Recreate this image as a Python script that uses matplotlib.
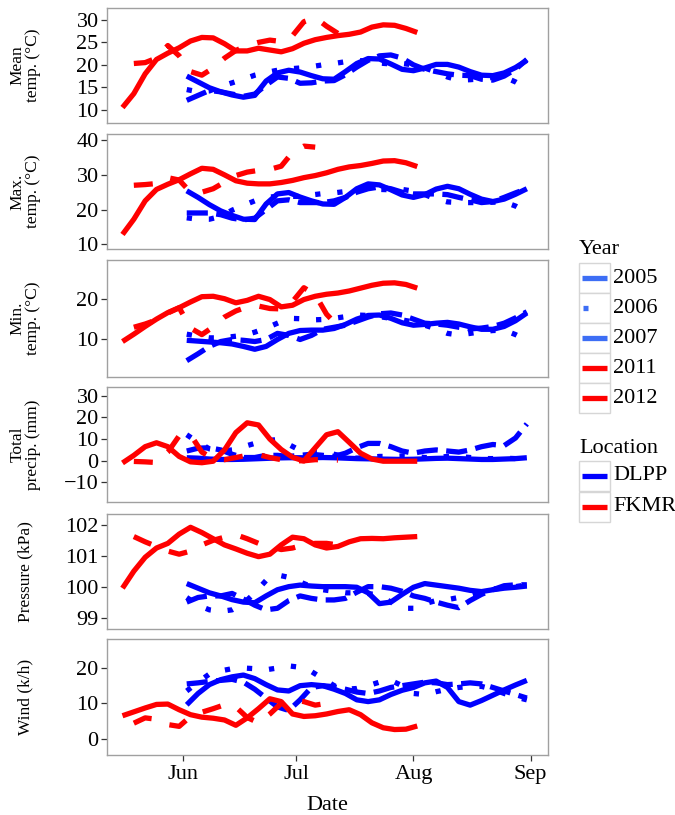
"""
Weather series at the two sites (DLPP 2005-2007, FKMR 2011-2012), overlaid by calendar day.
"""
import matplotlib
matplotlib.use("Agg")
import matplotlib.pyplot as plt
import matplotlib.dates as mdates
from matplotlib.patches import Rectangle
import numpy as np
import pandas as pd

nan = np.nan

# all years are drawn on one calendar (2005) so they overlay by day of year
dlpp_dates = pd.date_range("2005-06-02", periods=31, freq="3D")
fkmr_dates = pd.date_range("2005-05-16", periods=27, freq="3D")

mean_2005 = [17.5, 16.2, 14.9, 14.0, 13.3, 12.8, 13.2, 16.4, 18.2, 18.8, 18.4, 17.6, 16.9, 16.8, 18.5, 20.3,
             21.4, 21.3, 20.2, 19.0, 18.7, 19.3, 20.1, 20.1, 19.5, 18.5, 17.7, 17.6, 18.2, 19.4, 21.0]
mean_2006 = [14.5, 14.0, 14.2, 15.2, 16.0, 16.8, 17.7, 18.3, 18.8, 19.1, 19.3, 19.6, 20.0, 20.3, 20.7, 21.0,
             20.8, 20.4, 20.2, 20.3, 20.0, 19.3, 18.4, 17.3, 16.6, 16.7, 16.9, 17.2, 17.3, 16.2, 14.7]
mean_2007 = [12.1, 13.2, 14.3, 14.0, 13.5, 13.0, 13.5, 15.5, 17.3, 17.0, 15.9, 16.0, 16.4, 16.5, 17.8, 19.5,
             21.0, 22.0, 22.2, 21.5, 20.0, 19.0, 18.5, 18.0, 17.7, 17.6, 16.8, 16.6, 17.5, 19.0, 21.2]
mean_2011 = [10.5, 13.6, 18.0, 21.2, 22.6, 23.8, 25.3, 26.1, 26.0, 24.7, 23.1, 23.1, 23.7, 23.3, 22.9, 23.6,
             24.8, 25.6, 26.1, 26.5, 26.8, 27.3, 28.4, 28.9, 28.8, 28.1, 27.2]
mean_2012 = [nan, 20.3, 20.5, 21.5, 24.3, 22.0, 18.5, 17.7, 19.3, 21.5, 23.2, 24.3, 25.0, 25.5, 25.2, 26.5,
             29.6, 30.5, 28.6, 27.0, nan, nan, nan, nan, nan, nan, nan]

max_2005 = [25.4, 23.5, 21.4, 19.6, 18.3, 17.2, 17.1, 21.6, 24.5, 24.9, 23.6, 22.5, 21.6, 21.5, 23.5, 26.0,
            27.4, 27.1, 25.7, 24.2, 23.5, 24.3, 25.9, 26.7, 26.0, 24.4, 23.0, 22.3, 23.0, 24.4, 26.0]
max_2006 = [17.6, 17.2, 17.2, 18.0, 19.8, 21.2, 22.5, 23.5, 23.8, 23.8, 23.8, 24.2, 24.6, 24.8, 25.2, 25.8,
            26.0, 25.8, 25.7, 25.8, 25.3, 24.3, 23.0, 22.2, 22.0, 22.0, 22.0, 22.1, 22.2, 21.0, 19.2]
max_2007 = [19.0, 19.0, 19.0, 18.5, 17.5, 17.0, 17.5, 20.0, 22.5, 22.8, 22.0, 22.0, 22.0, 22.5, 23.5, 25.0,
            26.0, 26.5, 26.0, 25.0, 24.5, 24.5, 24.5, 24.3, 23.5, 22.8, 22.0, 22.3, 23.5, 24.8, 26.0]
max_2011 = [12.8, 17.2, 22.5, 25.8, 27.3, 28.6, 30.3, 31.9, 31.6, 30.0, 28.3, 27.6, 27.4, 27.4, 27.8, 28.4,
            29.2, 29.8, 30.6, 31.6, 32.3, 32.7, 33.3, 34.0, 34.1, 33.5, 32.4]
max_2012 = [nan, 27.0, 27.2, 27.5, 29.2, 28.5, 25.0, 25.0, 26.0, 27.9, 29.8, 30.8, 31.3, 31.6, 32.5, 36.5,
            38.3, 38.0, nan, nan, nan, nan, nan, nan, nan, nan, nan]

min_2005 = [9.8, 9.6, 9.4, 9.2, 8.9, 8.3, 7.6, 8.3, 10.0, 11.5, 12.2, 12.3, 12.3, 12.7, 13.7, 15.0,
            15.9, 16.0, 15.2, 14.1, 13.5, 13.7, 14.0, 14.2, 13.8, 13.1, 12.5, 12.5, 13.2, 14.6, 16.5]
min_2006 = [11.3, 10.8, 10.4, 10.4, 10.7, 11.0, 11.8, 12.8, 14.0, 15.2, 15.1, 14.8, 14.9, 15.2, 15.6, 16.0,
            15.9, 15.6, 15.2, 14.8, 14.3, 13.5, 12.6, 11.5, 11.1, 11.5, 11.9, 12.2, 12.3, 11.2, 9.8]
min_2007 = [4.8, 6.5, 8.3, 9.5, 10.0, 9.8, 9.5, 10.0, 11.5, 11.0, 10.0, 11.0, 12.5, 13.0, 13.5, 14.5,
            15.5, 16.3, 16.5, 16.0, 15.0, 14.0, 13.8, 13.5, 13.0, 12.6, 12.8, 13.2, 14.0, 15.3, 16.8]
min_2011 = [9.5, 11.3, 13.2, 15.0, 16.6, 17.8, 19.2, 20.5, 20.6, 20.0, 19.0, 19.6, 20.6, 19.8, 18.0, 18.4,
            19.8, 20.6, 21.1, 21.4, 21.9, 22.6, 23.3, 23.8, 23.9, 23.5, 22.6]
min_2012 = [nan, 13.0, 13.8, 14.8, 16.5, 17.8, 12.8, 11.2, 13.1, 15.5, 17.0, 18.0, 18.2, 17.6, 17.5, 19.3,
            22.7, 21.0, 16.2, 13.3, nan, nan, nan, nan, nan, nan, nan]

precip_2005 = [1.4, 1.2, 0.8, 0.6, 0.6, 0.7, 0.9, 1.1, 1.3, 1.4, 1.4, 1.4, 1.5, 1.4, 1.2, 1.0,
               0.9, 0.8, 0.7, 0.6, 0.7, 0.9, 1.1, 1.2, 1.0, 0.8, 0.6, 0.6, 0.8, 1.0, 1.4]
precip_2006 = [12.0, 8.5, 5.5, 4.5, 5.0, 6.5, 8.0, 9.2, 9.8, 7.5, 4.8, 4.4, 4.4, 3.0, 1.8, 1.2,
               1.5, 2.0, 2.0, 2.2, 2.0, 1.5, 1.5, 2.0, 2.0, 1.5, 1.0, 1.0, 1.2, 1.0, 0.8]
precip_2007 = [4.5, 5.8, 6.0, 5.0, 3.0, 1.5, 1.5, 2.5, 2.5, 2.0, 2.5, 3.0, 2.5, 2.0, 3.5, 6.0,
               8.0, 8.0, 6.5, 4.5, 3.5, 4.5, 5.0, 4.5, 4.0, 5.0, 6.5, 7.5, 7.0, 10.5, 17.0]
precip_2011 = [-1.0, 2.5, 6.5, 8.3, 6.5, 2.0, -0.5, -0.9, -0.2, 5.0, 13.0, 17.5, 16.5, 10.0, 5.2, 1.6,
               -0.1, 6.0, 12.0, 13.4, 8.5, 3.5, 0.8, -0.2, -0.2, -0.2, -0.2]
precip_2012 = [nan, -0.3, -0.5, -0.8, 4.0, 11.5, 12.0, 4.0, 1.0, 0.5, 1.5, 2.5, 2.8, 1.5, 0.5, 0.0,
               0.0, 0.5, 0.5, 0.3, nan, nan, nan, nan, nan, nan, nan]

pres_2005 = [100.10, 99.95, 99.80, 99.70, 99.58, 99.50, 99.48, 99.70, 99.90, 100.00, 100.05, 100.02, 100.00,
             100.00, 100.00, 99.98, 99.80, 99.45, 99.50, 99.75, 99.98, 100.10, 100.05, 100.00, 99.95, 99.88,
             99.84, 99.90, 99.95, 99.98, 100.02]
pres_2006 = [99.65, 99.40, 99.25, 99.20, 99.25, 99.45, 99.80, 100.20, 100.38, 100.30, 100.15, 100.00, 99.90,
             99.85, 99.80, 99.80, 99.78, 99.72, 99.50, 99.30, 99.30, 99.45, 99.55, 99.58, 99.65, 99.75,
             99.85, 99.92, 99.96, 100.00, 100.06]
pres_2007 = [99.50, 99.65, 99.70, 99.70, 99.78, 99.60, 99.40, 99.25, 99.30, 99.55, 99.70, 99.62, 99.57,
             99.57, 99.62, 99.82, 100.00, 100.00, 99.95, 99.85, 99.70, 99.62, 99.50, 99.40, 99.32, 99.55,
             99.75, 99.90, 100.03, 100.06, 100.06]
pres_2011 = [99.95, 100.50, 100.95, 101.25, 101.40, 101.70, 101.92, 101.75, 101.55, 101.35, 101.22, 101.08,
             100.97, 101.05, 101.35, 101.60, 101.55, 101.35, 101.25, 101.30, 101.45, 101.55, 101.56, 101.55,
             101.58, 101.60, 101.62]
pres_2012 = [nan, 101.62, 101.45, 101.30, 101.15, 101.05, 101.15, 101.35, 101.50, 101.60, 101.68, 101.55,
             101.40, 101.30, 101.20, 101.25, 101.35, 101.40, 101.40, 101.35, nan, nan, nan, nan, nan, nan, nan]

wind_2005 = [9.6, 12.8, 15.3, 16.7, 17.5, 18.0, 17.0, 15.3, 13.8, 13.5, 15.0, 15.3, 15.0, 14.0, 12.8, 11.0,
             10.5, 11.0, 12.5, 13.7, 14.5, 15.8, 16.3, 14.5, 10.5, 9.5, 10.8, 12.3, 13.8, 15.2, 16.5]
wind_2006 = [13.5, 16.0, 18.3, 19.2, 19.8, 20.0, 19.8, 19.5, 20.0, 20.6, 20.2, 19.0, 17.0, 15.0, 14.0, 14.2,
             15.0, 16.0, 16.5, 15.0, 12.8, 12.5, 13.3, 14.0, 14.5, 14.8, 14.8, 14.0, 12.8, 11.8, 11.0]
wind_2007 = [15.5, 15.8, 16.2, 16.5, 16.8, 16.0, 14.0, 11.5, 9.0, 8.0, 11.0, 14.5, 15.0, 14.7, 14.0, 13.2,
             12.8, 13.5, 14.5, 15.0, 15.5, 16.0, 15.8, 15.3, 15.5, 15.8, 15.5, 14.5, 13.5, 12.5, 11.5]
wind_2011 = [6.5, 7.6, 8.7, 9.7, 9.8, 8.2, 6.8, 6.1, 5.8, 5.3, 3.8, 5.9, 8.5, 11.3, 10.5, 7.0,
             6.3, 6.5, 7.0, 7.7, 8.2, 6.8, 4.5, 3.1, 2.6, 2.7, 3.6]
wind_2012 = [nan, 4.4, 5.9, 5.5, 4.0, 3.5, 6.3, 7.5, 8.5, 9.6, 9.0, 6.0, 4.5, 7.0, 10.0, 11.0,
             10.5, 9.5, 10.0, 11.5, nan, nan, nan, nan, nan, nan, nan]

panel_labels = ["Mean\ntemp. (\u00b0C)", "Max.\ntemp. (\u00b0C)", "Min.\ntemp. (\u00b0C)",
                "Total\nprecip. (mm)", "Pressure (kPa)", "Wind (k/h)"]
panel_ticks = [[10, 15, 20, 25, 30], [10, 20, 30, 40], [10, 20], [-10, 0, 10, 20, 30],
               [99, 100, 101, 102], [0, 10, 20]]
panel_ylims = [(7.06, 32.65), (8.6, 41.8), (0.8, 29.5), (-19.0, 34.0), (98.63, 102.35), (-4.6, 28.2)]
panel_series = [
    [mean_2005, mean_2006, mean_2007, mean_2011, mean_2012],
    [max_2005, max_2006, max_2007, max_2011, max_2012],
    [min_2005, min_2006, min_2007, min_2011, min_2012],
    [precip_2005, precip_2006, precip_2007, precip_2011, precip_2012],
    [pres_2005, pres_2006, pres_2007, pres_2011, pres_2012],
    [wind_2005, wind_2006, wind_2007, wind_2011, wind_2012],
]

years = ["2005", "2006", "2007", "2011", "2012"]
year_dates = [dlpp_dates, dlpp_dates, dlpp_dates, fkmr_dates, fkmr_dates]
year_colors = ["#0000FF", "#0000FF", "#0000FF", "#FF0000", "#FF0000"]
year_styles = ["-", (0, (1, 3.2)), (0, (4, 1.6)), "-", (0, (3.6, 3.6))]
key_colors = ["#3D6EF5", "#3D6EF5", "#3D6EF5", "#FF0000", "#FF0000"]

W, H = 675, 815
LW = 3.8
plt.rcParams["font.family"] = ["Liberation Serif", "DejaVu Serif"]

fig = plt.figure(figsize=(W / 100, H / 100), dpi=100)

# panel boxes in pixels: (top, bottom); all share left/right edges
boxes = [(8, 123), (134, 249), (260, 377), (387, 502), (514, 629), (639, 755)]
left, right = 107, 548
jun1 = mdates.date2num(pd.Timestamp("2005-06-01"))

for i, (top, bottom) in enumerate(boxes):
    ax = fig.add_axes([left / W, 1 - bottom / H, (right - left) / W, (bottom - top) / H])
    for dates, vals, col, ls in zip(year_dates, panel_series[i], year_colors, year_styles):
        ax.plot(dates, vals, color=col, linestyle=ls, linewidth=LW,
                dash_capstyle="butt", solid_capstyle="butt", solid_joinstyle="round")
    ax.set_xlim(jun1 - 20.1, jun1 + 96.6)
    ax.set_ylim(*panel_ylims[i])
    ax.set_yticks(panel_ticks[i])
    ax.xaxis.set_major_locator(mdates.MonthLocator(bymonth=[6, 7, 8, 9]))
    ax.xaxis.set_major_formatter(mdates.DateFormatter("%b"))
    for sp in ax.spines.values():
        sp.set_color("#A0A0A0")
        sp.set_linewidth(1.0)
    ax.tick_params(axis="y", length=4, width=0.9, color="#333333", labelsize=16, pad=2)
    ax.tick_params(axis="x", length=4, width=0.9, color="#333333", labelsize=16, pad=3)
    if i < len(boxes) - 1:
        ax.tick_params(axis="x", bottom=False, labelbottom=False)
    else:
        ax.set_xlabel("Date", fontsize=16, labelpad=9)
    fig.text(25 / W, 1 - (top + bottom) / 2 / H, panel_labels[i], rotation=90,
             ha="center", va="center", fontsize=12.5, linespacing=0.95, multialignment="center")

# legend drawn by hand in pixel units
lg = fig.add_axes([570 / W, 1 - 530 / H, 105 / W, 300 / H])
lg.set_xlim(0, 105)
lg.set_ylim(300, 0)
lg.axis("off")


def key_box(y0, color, style):
    lg.add_patch(Rectangle((9.3, y0), 30.7, 30, facecolor="white", edgecolor="#D6D6D6", linewidth=1.0))
    if style == "dot":
        lg.plot([12.5, 18.0], [y0 + 15, y0 + 15], color=color, linewidth=LW, solid_capstyle="butt")
    else:
        lg.plot([12.3, 36.7], [y0 + 15, y0 + 15], color=color, linewidth=LW, solid_capstyle="butt")


lg.text(9, 20, "Year", fontsize=16, va="center", ha="left")
for k, yr in enumerate(years):
    y0 = 33.3 + 30 * k
    key_box(y0, key_colors[k], "dot" if yr == "2006" else "line")
    lg.text(43.3, y0 + 15, yr, fontsize=16, va="center", ha="left")

lg.text(9, 218.5, "Location", fontsize=16, va="center", ha="left")
for k, (site, col) in enumerate([("DLPP", "#0000FF"), ("FKMR", "#FF0000")]):
    y0 = 231 + 30.7 * k
    key_box(y0, col, "line")
    lg.text(43.3, y0 + 15, site, fontsize=16, va="center", ha="left")

fig.savefig("out.png", dpi=100)
plt.close(fig)
